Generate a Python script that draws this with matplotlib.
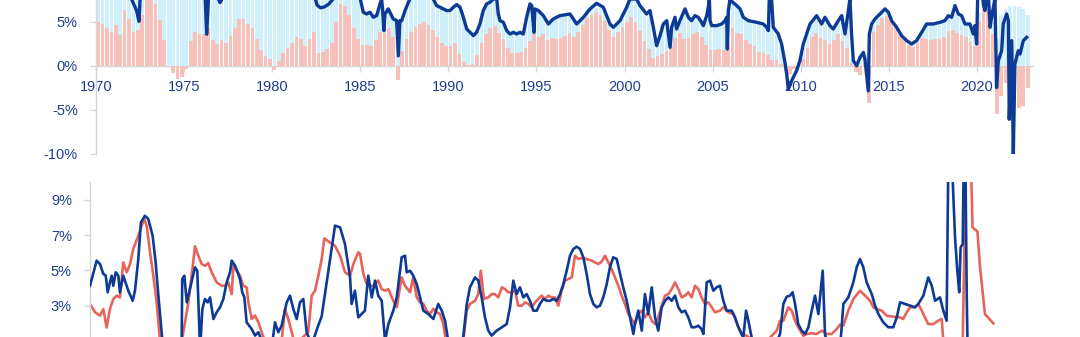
import numpy as np
import matplotlib
matplotlib.use("Agg")
import matplotlib.pyplot as plt
from matplotlib.ticker import FuncFormatter

plt.rcParams['font.family'] = ['Liberation Sans', 'DejaVu Sans']

NAVY = '#0d3a94'
TXT = '#1f3f93'
PINK = '#f6c0bb'
SKY = '#cfeffb'
RED = '#e8635a'
GRID = '#d6d6d6'

# ---------------- upper panel: quarterly bars 1970Q1-2022Q4 ----------------
bar_pink = [
    5.0, 4.8, 4.3, 3.8,   4.7, 3.5, 6.4, 5.3,   3.9, 4.1, 5.8, 7.6,   8.5, 7.0, 5.2, 2.9,    # 1970-73
    -0.1, -0.8, -1.5, -1.3, -0.4, 2.8, 3.9, 3.6, 3.6, 4.3, 2.9, 2.5,  2.9, 2.6, 3.4, 4.3,   # 1974-77
    5.3, 5.3, 4.8, 4.3,   3.1, 1.8, 1.1, 0.8,  -0.5, 0.5, 1.4, 2.0,   2.6, 3.3, 3.0, 2.3,    # 1978-81
    3.0, 3.8, 1.5, 1.6,   1.9, 2.6, 5.0, 7.0,   6.8, 5.8, 4.3, 3.0,   2.4, 2.4, 2.2, 2.9,    # 1982-85
    3.8, 3.7, 4.3, 3.3,  -1.6, 1.7, 3.0, 3.8,   4.4, 4.8, 5.0, 4.6,   4.1, 3.3, 2.6, 2.2,    # 1986-89
    2.3, 2.6, 1.3, 0.4,   0.1, 0.2, 1.2, 2.6,   3.6, 4.3, 4.5, 3.7,   3.1, 2.0, 1.4, 1.4,    # 1990-93
    1.6, 2.0, 2.8, 3.6,   3.3, 3.6, 2.9, 3.2,   3.1, 3.2, 3.4, 3.7,   3.3, 3.8, 4.6, 5.4,    # 1994-97
    5.8, 6.1, 5.8, 5.1,   4.1, 3.3, 3.8, 4.4,   5.0, 5.6, 5.0, 4.0,   2.8, 1.9, 0.9, 1.1,    # 1998-01
    1.3, 1.7, 2.3, 3.2,   3.7, 3.1, 3.2, 3.6,   3.9, 3.3, 2.4, 1.8,   1.8, 1.9, 1.8, 2.6,    # 2002-05
    4.3, 3.7, 3.6, 2.9,   2.5, 2.2, 1.6, 1.4,   1.2, 0.6, 0.7, 0.2,  -0.6, -0.9, -0.4, -0.1, # 2006-09
    0.8, 2.0, 3.3, 3.7,   3.2, 2.9, 2.5, 2.9,   3.6, 2.8, 2.0, 0.3,  -0.7, -1.0, 0.2, -4.2,  # 2010-13
    3.8, 4.6, 5.4, 5.7,   5.1, 4.3, 3.6, 3.0,   2.4, 2.1, 2.6, 3.2,   3.1, 2.9, 3.0, 3.1,    # 2014-17
    3.3, 4.0, 4.1, 3.7,   3.5, 3.3, 2.7, 2.3,   5.1, 8.5, 6.5, 3.6,  -5.5, -3.5, -2.0, -3.2, # 2018-21
    -4.6, -4.8, -4.6, -2.5,                                                                 # 2022
]

# top of the positive stack (pink + light blue)
bar_total = [
    9, 9, 9, 9,   9, 9, 9, 9,   9, 9, 9, 9,   9, 9, 9, 9,                                   # 1970-73
    9, 9, 9, 9,   9, 9, 9, 9,   9, 9, 9, 9,   9, 9, 9, 9,                                   # 1974-77
    9, 9, 9, 9,   9, 9, 9, 9,   9, 9, 9, 9,   9, 9, 9, 9,                                   # 1978-81
    9, 9, 8, 8,   8, 8, 9, 9,   9, 9, 9, 9,   6.5, 6.0, 5.7, 6.0,                           # 1982-85
    7.0, 6.0, 6.3, 5.5,   5.2, 5.3, 6.5, 7.5,   9, 9, 9, 9,   8.0, 7.0, 6.5, 6.3,           # 1986-89
    6.3, 6.8, 6.8, 5.5,   4.0, 3.5, 4.0, 6.0,   7.2, 7.5, 8.0, 6.0,   5.0, 4.0, 3.7, 3.7,   # 1990-93
    3.7, 4.5, 7.0, 5.0,   6.3, 5.7, 5.0, 5.3,   5.5, 5.7, 5.8, 5.9,   5.2, 4.8, 5.4, 6.3,   # 1994-97
    6.6, 7.0, 6.9, 6.3,   4.8, 4.4, 5.0, 6.0,   6.9, 7.5, 7.5, 6.8,   6.0, 5.5, 3.2, 3.0,   # 1998-01
    4.7, 4.5, 3.5, 5.0,   5.0, 6.2, 5.4, 5.6,   5.5, 4.8, 5.6, 5.0,   4.6, 4.7, 5.2, 6.5,   # 2002-05
    7.2, 6.9, 6.0, 5.3,   5.1, 5.0, 4.9, 4.7,   4.3, 5.5, 3.6, 2.4,   0.4, 0.0, 0.0, 0.5,   # 2006-09
    2.0, 3.5, 4.8, 5.2,   5.0, 5.2, 4.6, 4.5,   5.2, 5.0, 5.0, 0.8,   0.2, 1.0, 1.2, 0.0,   # 2010-13
    4.8, 5.4, 6.0, 6.4,   5.5, 4.5, 3.5, 2.9,   2.6, 2.6, 3.0, 3.9,   4.7, 4.8, 4.9, 5.0,   # 2014-17
    5.2, 5.6, 6.3, 5.9,   5.6, 4.8, 4.7, 4.0,   6.0, 8.5, 7.0, 5.0,   3.0, 5.8, 6.5, 6.8,   # 2018-21
    6.8, 6.7, 6.5, 5.8,                                                                     # 2022
]

top_line_x = [
    1970.0, 1970.5, 1971.0, 1971.5, 1971.9, 1972.02, 1972.3, 1972.44, 1972.5, 1972.8,
    1973.5, 1974.5, 1975.5, 1976.15, 1976.2, 1976.28, 1976.38, 1976.6, 1976.95, 1977.04,
    1977.15, 1978.0, 1979.0, 1980.0, 1981.0, 1982.0, 1982.45, 1982.55, 1982.75, 1982.95,
    1983.2, 1983.45, 1984.0, 1984.6, 1985.0, 1985.17, 1985.36, 1985.55, 1985.74, 1985.93,
    1986.12, 1986.21, 1986.27, 1986.34, 1986.4, 1986.59, 1986.68, 1986.87, 1987.06, 1987.16,
    1987.25, 1987.35, 1987.54, 1987.73, 1987.82, 1988.3, 1988.8, 1989.14, 1989.33, 1989.71,
    1989.9, 1990.09, 1990.28, 1990.47, 1990.66, 1990.85, 1991.04, 1991.23, 1991.42, 1991.6,
    1991.79, 1991.98, 1992.17, 1992.36, 1992.55, 1992.74, 1992.83, 1992.93, 1993.12, 1993.31,
    1993.5, 1993.68, 1993.87, 1994.06, 1994.25, 1994.44, 1994.63, 1994.73, 1994.86, 1994.91,
    1995.1, 1995.39, 1995.67, 1995.95, 1996.33, 1996.9, 1997.28, 1997.66, 1998.04, 1998.41,
    1998.79, 1999.17, 1999.36, 1999.74, 2000.12, 2000.3, 2000.68, 2000.87, 2001.25, 2001.44,
    2001.63, 2001.82, 2002.01, 2002.2, 2002.39, 2002.58, 2002.67, 2002.86, 2002.95, 2003.14,
    2003.43, 2003.62, 2003.8, 2003.99, 2004.18, 2004.37, 2004.47, 2004.66, 2004.75, 2004.81,
    2004.85, 2004.94, 2005.22, 2005.51, 2005.7, 2005.79, 2005.83, 2005.89, 2005.98, 2006.1,
    2006.36, 2006.55, 2006.74, 2007.02, 2007.49, 2007.87, 2008.06, 2008.16, 2008.21, 2008.34,
    2008.44, 2008.72, 2008.91, 2009.1, 2009.2, 2009.29, 2009.48, 2009.76, 2009.95, 2010.14,
    2010.33, 2010.52, 2010.9, 2011.18, 2011.37, 2011.65, 2011.84, 2012.13, 2012.32, 2012.51,
    2012.7, 2012.79, 2012.88, 2012.98, 2013.17, 2013.36, 2013.55, 2013.64, 2013.83, 2013.89,
    2014.02, 2014.21, 2014.49, 2014.78, 2014.97, 2015.15, 2015.44, 2015.72, 2016.01, 2016.29,
    2016.57, 2016.86, 2017.14, 2017.52, 2017.9, 2018.18, 2018.37, 2018.56, 2018.75, 2018.94,
    2019.13, 2019.32, 2019.6, 2019.79, 2019.88, 2019.98, 2020.04, 2020.3, 2020.36, 2020.45,
    2020.55, 2020.65, 2020.74, 2020.83, 2021.02, 2021.11, 2021.21, 2021.4, 2021.49, 2021.68,
    2021.78, 2021.83, 2021.97, 2022.06, 2022.15, 2022.34, 2022.44, 2022.63, 2022.82,
]
top_line_y = [
    9.5, 9.8, 9.6, 9.0, 8.2, 7.6, 6.3, 5.06, 7.6, 9.0,
    10.5, 9.5, 9.0, 8.5, 7.6, 3.6, 7.6, 8.5, 7.6, 7.2,
    7.6, 9.0, 9.5, 10.0, 9.5, 8.5, 7.6, 6.9, 6.6, 6.7,
    7.0, 7.6, 8.8, 8.5, 7.6, 6.1, 5.9, 6.1, 5.52, 5.71,
    7.05, 7.6, 6.29, 4.0, 5.9, 6.48, 6.1, 5.33, 5.14, 1.14,
    5.14, 5.14, 6.29, 7.24, 7.6, 8.5, 8.0, 7.6, 6.86, 6.48,
    6.29, 6.29, 6.67, 6.97, 6.67, 5.52, 4.19, 3.81, 3.43, 3.81,
    4.76, 6.29, 7.05, 7.24, 7.6, 7.7, 5.9, 5.14, 4.95, 4.0,
    3.62, 3.81, 3.62, 3.81, 3.62, 5.52, 7.05, 6.86, 3.81, 6.48,
    6.29, 5.71, 4.76, 5.33, 5.71, 5.9, 4.76, 5.52, 6.48, 7.12,
    6.67, 4.76, 4.38, 5.14, 6.67, 7.6, 7.6, 6.86, 5.9, 6.29,
    4.38, 2.29, 3.43, 4.76, 5.14, 2.1, 4.38, 5.52, 4.19, 5.14,
    6.48, 5.52, 5.14, 5.71, 5.52, 4.95, 4.57, 5.71, 6.67, 7.7,
    5.14, 4.57, 4.57, 4.76, 5.14, 5.52, 1.9, 6.29, 7.6, 7.3,
    6.86, 6.48, 5.52, 5.14, 4.95, 4.76, 4.38, 4.0, 7.7, 7.6,
    4.38, 3.62, 2.48, 0.38, -0.95, -2.67, -1.71, -0.57, 0.57, 2.48,
    3.62, 4.76, 5.71, 4.76, 5.52, 4.57, 4.19, 5.14, 5.71, 3.62,
    6.29, 7.7, 3.62, 0.57, 0.0, 0.95, 1.52, 0.76, -2.86, 3.62,
    4.76, 5.33, 5.9, 6.48, 6.1, 5.14, 4.38, 3.43, 2.86, 2.48,
    2.86, 3.81, 4.76, 4.76, 4.95, 5.14, 5.71, 5.52, 6.86, 5.9,
    5.71, 4.76, 4.76, 3.62, 4.57, 2.48, 8.0, 8.5, 7.05, 6.29,
    7.7, 8.0, 4.38, 5.52, 7.7, -2.48, 0.57, 1.71, 4.76, 5.9,
    5.14, -6.1, 2.86, -10.3, 0.19, 1.71, 1.33, 2.86, 3.24,
]

# ---------------- lower panel: two growth lines ----------------
blue_x = [
    1970.75, 1971.13, 1971.32, 1971.51, 1971.65, 1971.76, 1971.89, 1971.99, 1972.08, 1972.22,
    1972.37, 1972.46, 1972.65, 1972.94, 1973.19, 1973.32, 1973.51, 1973.66, 1973.89, 1974.08,
    1974.33, 1974.5, 1974.69, 1974.88, 1975.3, 1975.7, 1975.99, 1976.02, 1976.14, 1976.28,
    1976.46, 1976.75, 1976.88, 1977.04, 1977.17, 1977.32, 1977.48, 1977.61, 1977.8, 1977.99,
    1978.18, 1978.37, 1978.56, 1978.75, 1978.85, 1979.04, 1979.19, 1979.32, 1979.45, 1979.57,
    1979.7, 1979.99, 1980.18, 1980.37, 1980.65, 1981.13, 1981.32, 1981.51, 1981.7, 1981.99,
    1982.18, 1982.37, 1982.56, 1982.75, 1982.94, 1983.13, 1983.42, 1983.8, 1983.99, 1984.37,
    1984.75, 1985.04, 1985.32, 1985.61, 1985.7, 1985.89, 1986.08, 1986.46, 1986.65, 1986.85,
    1987.04, 1987.22, 1987.42, 1987.61, 1987.8, 1988.08, 1988.28, 1988.56, 1988.75, 1988.85,
    1989.04, 1989.22, 1989.42, 1989.61, 1989.8, 1990.08, 1990.37, 1990.65, 1990.85, 1991.04,
    1991.22, 1991.7, 1992.08, 1992.28, 1992.46, 1992.75, 1992.94, 1993.13, 1993.32, 1993.51,
    1993.7, 1993.99, 1994.28, 1994.56, 1994.75, 1994.94, 1995.13, 1995.32, 1995.51, 1995.7,
    1995.89, 1996.08, 1996.28, 1996.46, 1996.65, 1996.85, 1997.04, 1997.22, 1997.42, 1997.61,
    1997.8, 1997.99, 1998.18, 1998.37, 1998.56, 1998.75, 1998.94, 1999.13, 1999.32, 1999.51,
    1999.7, 1999.89, 2000.08, 2000.28, 2000.46, 2000.65, 2000.85, 2001.04, 2001.22, 2001.42,
    2001.61, 2001.8, 2001.89, 2002.08, 2002.28, 2002.46, 2002.65, 2002.85, 2003.04, 2003.22,
    2003.42, 2003.61, 2003.8, 2003.99, 2004.18, 2004.37, 2004.56, 2004.75, 2004.94, 2005.13,
    2005.32, 2005.51, 2005.7, 2005.8, 2005.99, 2006.18, 2006.37, 2006.56, 2006.75, 2006.94,
    2007.13, 2007.42, 2007.61, 2007.8, 2008.08, 2008.24, 2008.37, 2008.56, 2008.85, 2009.8,
    2010.18, 2010.37, 2010.56, 2010.75, 2010.9, 2011.04, 2011.22, 2011.42, 2011.61, 2011.8,
    2011.99, 2012.18, 2012.37, 2012.62, 2012.75, 2012.94, 2013.61, 2013.8, 2014.08, 2014.37,
    2014.56, 2014.75, 2014.94, 2015.13, 2015.42, 2015.61, 2015.8, 2016.08, 2016.37, 2016.65,
    2016.85, 2017.04, 2017.32, 2017.61, 2017.89, 2018.08, 2018.37, 2018.65, 2018.85, 2019.04,
    2019.32, 2019.51, 2019.7, 2019.8, 2019.99, 2020.18, 2020.31, 2020.42, 2020.5, 2020.62,
    2020.68, 2020.77, 2020.85, 2020.94, 2021.1,
]
blue_y = [
    4.13, 5.55, 5.36, 4.8, 4.7, 3.76, 4.32, 4.7, 4.13, 4.89,
    4.7, 3.76, 4.7, 3.85, 3.28, 3.85, 5.64, 7.72, 8.09, 7.9,
    6.96, 5.45, 3.19, 1.1, -0.3, -0.2, 1.1, 4.51, 4.7, 3.19,
    3.94, 5.17, 4.98, 0.5, 2.81, 3.38, 3.19, 3.47, 2.25, 2.63,
    2.91, 3.38, 4.32, 4.89, 5.55, 5.26, 4.89, 4.51, 3.76, 3.47,
    2.06, 1.68, 1.31, 1.5, 0.8, 0.6, 2.06, 1.5, 1.87, 3.19,
    3.57, 2.81, 2.25, 3.19, 3.38, 1.5, 0.8, 1.9, 2.4, 4.98,
    7.53, 7.43, 6.49, 4.6, 3.1, 3.85, 2.34, 2.72, 4.7, 3.47,
    4.42, 3.57, 3.28, 1.0, 1.96, 2.72, 3.47, 5.74, 5.83, 4.89,
    4.98, 4.7, 4.23, 3.47, 2.72, 2.53, 2.25, 3.1, 2.72, 2.15,
    1.0, 0.3, 1.25, 3.1, 4.04, 4.6, 4.42, 3.47, 2.34, 1.59,
    1.31, 1.59, 1.78, 1.96, 2.91, 4.42, 3.66, 4.04, 3.47, 3.66,
    3.28, 2.72, 2.72, 3.1, 3.38, 3.28, 3.28, 3.38, 3.28, 3.66,
    4.23, 4.98, 5.83, 6.21, 6.34, 6.21, 5.74, 4.8, 3.66, 3.1,
    2.91, 3.0, 3.47, 4.23, 5.17, 5.74, 5.64, 4.8, 4.04, 3.28,
    2.34, 1.4, 1.96, 2.72, 1.59, 3.66, 2.53, 4.04, 2.34, 1.59,
    2.91, 3.28, 3.47, 3.28, 3.57, 2.91, 2.63, 2.72, 2.34, 1.78,
    1.78, 1.87, 1.68, 1.4, 4.32, 4.42, 3.85, 4.04, 4.13, 3.28,
    2.72, 2.72, 2.34, 1.78, 1.2, 2.72, 2.15, 1.2, 0.8, 0.5,
    1.4, 3.1, 3.51, 3.57, 3.76, 3.1, 1.96, 1.59, 1.4, 1.78,
    2.72, 3.57, 2.53, 4.98, 1.4, 0.5, 0.6, 3.1, 3.47, 4.32,
    5.17, 5.64, 5.17, 4.32, 3.66, 3.0, 2.53, 2.06, 1.78, 1.78,
    2.34, 3.19, 3.1, 3.0, 2.91, 3.1, 3.57, 4.6, 4.13, 3.28,
    3.47, 2.72, 2.15, 11.5, 11.5, 6.87, 4.98, 3.76, 6.3, 6.49,
    11.5, 11.5, 3.47, -2.0, -3.0,
]

red_x = [
    1970.75, 1971.04, 1971.32, 1971.51, 1971.7, 1971.89, 1972.08, 1972.28, 1972.46, 1972.65,
    1972.85, 1973.04, 1973.22, 1973.51, 1973.7, 1973.85, 1973.99, 1974.18, 1974.37, 1974.56,
    1974.75, 1975.2, 1975.6, 1975.99, 1976.18, 1976.37, 1976.56, 1976.75, 1976.94, 1977.13,
    1977.32, 1977.51, 1977.7, 1977.99, 1978.28, 1978.46, 1978.65, 1978.85, 1978.94, 1979.13,
    1979.32, 1979.51, 1979.7, 1979.8, 1979.99, 1980.18, 1980.37, 1980.56, 1980.75, 1981.7,
    1981.89, 1982.08, 1982.28, 1982.46, 1983.22, 1983.42, 1983.61, 1983.8, 1983.99, 1984.14,
    1984.46, 1984.75, 1985.04, 1985.32, 1985.61, 1985.8, 1986.08, 1986.18, 1986.37, 1986.56,
    1986.75, 1986.94, 1987.22, 1987.42, 1987.61, 1987.8, 1988.08, 1988.28, 1988.46, 1988.56,
    1988.75, 1989.04, 1989.22, 1989.42, 1989.61, 1989.8, 1989.99, 1990.18, 1990.37, 1990.56,
    1990.75, 1990.94, 1991.09, 1992.08, 1992.28, 1992.46, 1992.75, 1992.94, 1993.08, 1993.26,
    1993.51, 1993.7, 1993.89, 1994.08, 1994.28, 1994.46, 1994.65, 1994.85, 1995.04, 1995.22,
    1995.42, 1995.61, 1995.8, 1995.99, 1996.18, 1996.37, 1996.56, 1996.75, 1996.94, 1997.13,
    1997.32, 1997.51, 1997.7, 1997.89, 1998.08, 1998.28, 1998.46, 1998.65, 1998.85, 1999.13,
    1999.42, 1999.61, 1999.8, 1999.99, 2000.18, 2000.37, 2000.56, 2000.75, 2000.94, 2001.13,
    2001.32, 2001.51, 2001.7, 2001.89, 2002.08, 2002.28, 2002.46, 2002.65, 2002.85, 2003.04,
    2003.22, 2003.42, 2003.61, 2003.8, 2003.99, 2004.18, 2004.37, 2004.56, 2004.75, 2004.94,
    2005.13, 2005.32, 2005.51, 2005.7, 2005.89, 2006.08, 2006.28, 2006.46, 2006.75, 2006.94,
    2007.22, 2007.51, 2007.8, 2007.99, 2008.28, 2008.65, 2009.42, 2009.99, 2010.18, 2010.37,
    2010.65, 2010.85, 2011.04, 2011.22, 2011.51, 2011.7, 2011.99, 2012.28, 2012.56, 2012.85,
    2013.13, 2013.42, 2013.61, 2013.8, 2014.08, 2014.37, 2014.75, 2015.04, 2015.32, 2015.51,
    2015.7, 2015.99, 2016.28, 2016.65, 2017.04, 2017.22, 2017.42, 2017.61, 2017.89, 2018.08,
    2018.28, 2018.46, 2018.65, 2018.94, 2019.22, 2019.42, 2019.55, 2020.08, 2020.62, 2020.81,
    2021.08, 2021.18, 2021.46, 2021.61, 2021.89, 2022.37,
]
red_y = [
    3.1, 2.63, 2.44, 2.81, 1.77, 2.81, 3.38, 3.57, 3.47, 5.45,
    4.89, 5.36, 6.21, 6.96, 7.53, 7.9, 7.53, 6.02, 4.7, 3.19,
    1.0, -1.0, -0.5, 1.0, 2.06, 3.19, 4.7, 6.36, 5.83, 5.36,
    5.26, 5.41, 4.89, 4.32, 4.13, 4.13, 4.32, 3.66, 5.26, 4.98,
    4.7, 4.13, 4.04, 3.19, 2.25, 2.44, 2.06, 1.5, 1.0, 1.0,
    2.81, 2.25, 1.5, 0.8, 1.5, 3.57, 3.85, 4.7, 5.64, 6.81,
    6.58, 6.39, 5.83, 4.89, 4.7, 5.36, 6.02, 5.93, 4.8, 4.23,
    4.13, 4.13, 4.42, 3.94, 3.85, 3.94, 3.28, 2.91, 4.04, 4.6,
    4.13, 3.76, 4.6, 3.47, 3.19, 3.1, 2.72, 2.53, 2.82, 2.63,
    2.53, 1.96, 1.0, 1.0, 2.72, 3.1, 3.28, 3.66, 4.98, 3.38,
    3.47, 3.66, 3.66, 3.47, 4.04, 3.94, 3.76, 3.76, 3.85, 3.0,
    3.0, 3.19, 3.1, 2.91, 3.19, 3.38, 3.57, 3.38, 3.57, 3.47,
    3.47, 3.0, 3.85, 4.42, 4.51, 4.6, 5.83, 5.64, 5.7, 5.64,
    5.55, 5.45, 5.36, 5.5, 5.83, 5.45, 5.07, 4.6, 4.13, 3.57,
    3.1, 2.53, 2.25, 1.96, 2.53, 2.72, 2.34, 2.63, 2.15, 1.96,
    2.34, 3.0, 3.57, 3.66, 3.94, 4.32, 3.94, 3.47, 3.57, 3.76,
    3.47, 4.13, 3.94, 3.47, 3.1, 3.19, 2.91, 2.63, 2.72, 2.91,
    2.63, 2.53, 1.78, 1.4, 1.3, 1.0, 1.0, 1.59, 2.15, 2.15,
    2.91, 2.72, 2.15, 1.78, 1.3, 1.4, 1.44, 1.4, 1.59, 1.4,
    1.4, 1.68, 1.93, 1.87, 2.72, 3.38, 3.85, 3.57, 3.28, 2.91,
    2.81, 2.72, 2.43, 2.38, 2.34, 2.25, 2.63, 2.91, 2.91, 3.1,
    2.72, 2.34, 1.96, 1.96, 2.15, 2.25, 0.5, -1.0, 1.0, 11.5,
    11.5, 7.43, 7.2, 5.17, 2.53, 2.0,
]

years_q = 1970 + np.arange(len(bar_pink)) * 0.25 + 0.125
pink = np.array(bar_pink)
total = np.array(bar_total)
pos_base = np.clip(pink, 0, None)
sky = np.clip(total - pos_base, 0, None)

pct = FuncFormatter(lambda v, p: '{:.0f}%'.format(v))

fig = plt.figure(figsize=(10.8, 3.37), dpi=100)

# upper axes reach past the top edge of the figure
ax1 = fig.add_axes([96 / 1080, (337 - 153.5) / 337, 937 / 1080, 175.5 / 337])
ax1.bar(years_q, pink, width=0.21, color=PINK, linewidth=0, zorder=1)
ax1.bar(years_q, sky, width=0.21, bottom=pos_base, color=SKY, linewidth=0, zorder=1)
ax1.plot(top_line_x, top_line_y, color=NAVY, lw=2.4, solid_joinstyle='round', zorder=3)
ax1.set_xlim(1970, 1970 + 937 / 17.62)
ax1.set_ylim(-10, 10)
ax1.set_yticks([-10, -5, 0, 5])
ax1.yaxis.set_major_formatter(pct)
ax1.set_xticks(range(1970, 2021, 5))
ax1.spines['bottom'].set_position(('data', 0))
for s in ['top', 'right']:
    ax1.spines[s].set_visible(False)
for s in ['left', 'bottom']:
    ax1.spines[s].set_color(GRID)
    ax1.spines[s].set_linewidth(1.0)
ax1.spines['bottom'].set_zorder(0)
ax1.tick_params(axis='x', colors=GRID, length=4, width=1, pad=6, labelcolor=TXT, labelsize=10.5)
ax1.tick_params(axis='y', colors=GRID, length=4, width=1, pad=9, labelcolor=TXT, labelsize=10.5)

# lower axes run below the bottom edge of the figure
ax2 = fig.add_axes([90 / 1080, (337 - 376.4) / 337, 943 / 1080, 194.4 / 337])
ax2.plot(red_x, red_y, color=RED, lw=1.9, zorder=2)
ax2.plot(blue_x, blue_y, color=NAVY, lw=1.9, zorder=3)
ax2.set_xlim(1970.75, 1970.75 + 943 / 17.5)
ax2.set_ylim(-1, 10)
ax2.set_yticks([1, 3, 5, 7, 9])
ax2.yaxis.set_major_formatter(pct)
ax2.set_xticks([])
for s in ['top', 'right', 'bottom']:
    ax2.spines[s].set_visible(False)
ax2.spines['left'].set_color(GRID)
ax2.spines['left'].set_linewidth(1.0)
ax2.tick_params(axis='y', colors=GRID, length=4, width=1, pad=9, labelcolor=TXT, labelsize=10.5)

fig.savefig('out.png', dpi=100)
